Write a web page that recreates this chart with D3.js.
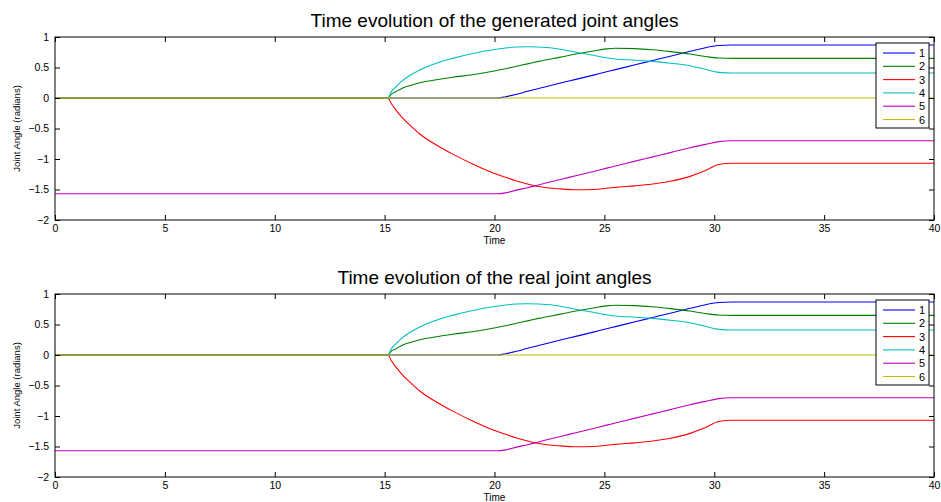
<!DOCTYPE html>
<html>
<head>
<meta charset="utf-8">
<script src="https://cdn.jsdelivr.net/npm/d3@7"></script>
<style>
  body { margin: 0; background: #fff; }
  svg text { font-family: "Liberation Sans", Arial, sans-serif; fill: #000; }
</style>
</head>
<body>
<div id="chart"></div>
<script>
//////////// DATA ////////////

var time = [0, 15.15, 15.3, 15.5, 15.8, 16.2, 16.6, 17.35, 18.1, 19, 20.1, 20.5, 21, 21.5, 22, 23, 23.7, 24.5, 25.1, 25.5, 26.4, 27.2, 28, 28.9, 29.6, 30.2, 30.8, 40];

var joint1 = [0, 0, 0, 0, 0, 0, 0, 0, 0, 0, 0, 0.02, 0.06, 0.11, 0.155, 0.245, 0.305, 0.375, 0.43, 0.465, 0.545, 0.615, 0.685, 0.765, 0.825, 0.86, 0.87, 0.87];
var joint2 = [0, 0, 0.06, 0.1, 0.16, 0.21, 0.25, 0.3, 0.34, 0.38, 0.45, 0.48, 0.52, 0.56, 0.6, 0.67, 0.72, 0.77, 0.805, 0.815, 0.81, 0.79, 0.76, 0.72, 0.68, 0.655, 0.65, 0.65];
var joint3 = [0, 0, -0.09, -0.19, -0.32, -0.46, -0.59, -0.77, -0.92, -1.08, -1.25, -1.3, -1.36, -1.41, -1.45, -1.49, -1.505, -1.5, -1.48, -1.465, -1.44, -1.41, -1.365, -1.285, -1.19, -1.09, -1.07, -1.07];
var joint4 = [0, 0, 0.1, 0.18, 0.28, 0.38, 0.46, 0.57, 0.65, 0.73, 0.8, 0.82, 0.835, 0.84, 0.835, 0.8, 0.75, 0.7, 0.66, 0.64, 0.62, 0.6, 0.57, 0.53, 0.47, 0.42, 0.41, 0.41];
var joint5 = [-1.57, -1.57, -1.57, -1.57, -1.57, -1.57, -1.57, -1.57, -1.57, -1.57, -1.57, -1.555, -1.51, -1.47, -1.425, -1.335, -1.275, -1.205, -1.15, -1.115, -1.035, -0.965, -0.895, -0.815, -0.76, -0.715, -0.7, -0.7];
var joint6 = [0, 0, 0, 0, 0, 0, 0, 0, 0, 0, 0, 0, 0, 0, 0, 0, 0, 0, 0, 0, 0, 0, 0, 0, 0, 0, 0, 0];

var jointNames = ["1", "2", "3", "4", "5", "6"];
var jointColors = ["#0000ff", "#008000", "#ff0000", "#00bfbf", "#bf00bf", "#bfbf00"];

var xTicks = [0, 5, 10, 15, 20, 25, 30, 35, 40];
var yTicks = [-2, -1.5, -1, -0.5, 0, 0.5, 1];

var titles = ["Time evolution of the generated joint angles", "Time evolution of the real joint angles"];

//////////// LAYOUT ////////////

var W = 941, H = 502;
var svg = d3.select("#chart").append("svg").attr("width", W).attr("height", H);

var panels = [
  { title: titles[0], top: 37, bottom: 220, series: [joint1, joint2, joint3, joint4, joint5, joint6] },
  { title: titles[1], top: 294, bottom: 477, series: [joint1, joint2, joint3, joint4, joint5, joint6] }
];

var left = 55, right = 934;
var fmt = function(d) { return String(d).replace("-", "\u2212"); };

panels.forEach(function(p) {
  var x = d3.scaleLinear().domain([0, 40]).range([left, right]);
  var y = d3.scaleLinear().domain([-2, 1]).range([p.bottom, p.top]);
  var g = svg.append("g");

  // lines
  var line = d3.line()
      .x(function(d) { return x(d[0]); })
      .y(function(d) { return y(d[1]); })
      .curve(d3.curveMonotoneX);

  var clipId = "clip" + p.top;
  svg.append("clipPath").attr("id", clipId).append("rect")
      .attr("x", left).attr("y", p.top).attr("width", right - left).attr("height", p.bottom - p.top);

  p.series.forEach(function(vals, i) {
    g.append("path")
        .datum(time.map(function(t, k) { return [t, vals[k]]; }))
        .attr("clip-path", "url(#" + clipId + ")")
        .attr("fill", "none")
        .attr("stroke", jointColors[i])
        .attr("stroke-width", 1.1)
        .attr("d", line);
  });

  // axes (ticks inward, box on all sides)
  g.append("g").attr("transform", "translate(0," + p.bottom + ")")
      .call(d3.axisBottom(x).tickValues(xTicks).tickSize(-5).tickPadding(5).tickFormat(fmt))
      .call(function(a) { a.select(".domain").remove(); a.selectAll("text").attr("font-size", 10.5); });
  g.append("g").attr("transform", "translate(0," + p.top + ")")
      .call(d3.axisTop(x).tickValues(xTicks).tickSize(-5).tickFormat(""))
      .call(function(a) { a.select(".domain").remove(); });
  g.append("g").attr("transform", "translate(" + left + ",0)")
      .call(d3.axisLeft(y).tickValues(yTicks).tickSize(-5).tickPadding(6).tickFormat(fmt))
      .call(function(a) { a.select(".domain").remove(); a.selectAll("text").attr("font-size", 10.5); });
  g.append("g").attr("transform", "translate(" + right + ",0)")
      .call(d3.axisRight(y).tickValues(yTicks).tickSize(-5).tickFormat(""))
      .call(function(a) { a.select(".domain").remove(); });

  g.selectAll(".tick line").attr("stroke", "#000");

  g.append("rect")
      .attr("x", left).attr("y", p.top)
      .attr("width", right - left).attr("height", p.bottom - p.top)
      .attr("fill", "none").attr("stroke", "#000").attr("stroke-width", 1);

  // title and labels
  g.append("text")
      .attr("x", (left + right) / 2).attr("y", p.top - 10)
      .attr("text-anchor", "middle").attr("font-size", 19)
      .text(p.title);
  g.append("text")
      .attr("x", (left + right) / 2).attr("y", p.bottom + 24)
      .attr("text-anchor", "middle").attr("font-size", 10)
      .text("Time");
  g.append("text")
      .attr("transform", "translate(20," + ((p.top + p.bottom) / 2) + ") rotate(-90)")
      .attr("text-anchor", "middle").attr("font-size", 9.5)
      .text("Joint Angle (radians)");

  // legend
  var lg = g.append("g").attr("transform", "translate(876," + (p.top + 6) + ")");
  lg.append("rect").attr("width", 53).attr("height", 85)
      .attr("fill", "#fff").attr("stroke", "#000").attr("stroke-width", 1);
  jointNames.forEach(function(n, i) {
    var yy = 10 + i * 13.3;
    lg.append("line").attr("x1", 7).attr("x2", 39).attr("y1", yy).attr("y2", yy)
        .attr("stroke", jointColors[i]).attr("stroke-width", 1.1);
    lg.append("text").attr("x", 43).attr("y", yy + 4).attr("font-size", 11).text(n);
  });
});
</script>
</body>
</html>
